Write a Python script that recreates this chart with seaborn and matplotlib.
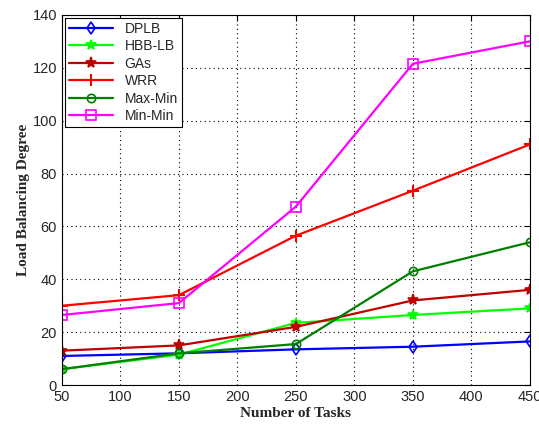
import matplotlib.pyplot as plt
import seaborn as sns
import numpy as np
import pandas as pd

tasks = [50, 150, 250, 350, 450]
dplb = [11, 12, 13.5, 14.5, 16.5]
hbb_lb = [6, 11.5, 23.5, 26.5, 29]
gas = [13, 15, 22, 32, 36]
wrr = [30, 34, 56.5, 73.5, 91]
max_min = [6, 12, 15.5, 43, 54]
min_min = [26.5, 31, 67.5, 121.5, 130]

series = {"DPLB": dplb, "HBB-LB": hbb_lb, "GAs": gas, "WRR": wrr,
          "Max-Min": max_min, "Min-Min": min_min}
styles = {
    "DPLB": dict(color="#0000ff", marker="d", mfc="none", ms=6),
    "HBB-LB": dict(color="#00ff00", marker="*", mfc="#00ff00", ms=7),
    "GAs": dict(color="#c00000", marker="*", mfc="#c00000", ms=8),
    "WRR": dict(color="#ff0000", marker="+", ms=8, mew=1.5),
    "Max-Min": dict(color="#008000", marker="o", mfc="none", ms=6),
    "Min-Min": dict(color="#ff00ff", marker="s", mfc="none", ms=7),
}

sns.set_style("white")
plt.rcParams["font.family"] = ["Liberation Sans", "DejaVu Sans"]

fig = plt.figure(figsize=(5.39, 4.25), dpi=100)
ax = fig.add_axes([0.115, 0.094, 0.868, 0.871])

for name, vals in series.items():
    df = pd.DataFrame({"tasks": tasks, "val": vals})
    st = styles[name]
    sns.lineplot(data=df, x="tasks", y="val", ax=ax, label=name,
                 color=st["color"], marker=st["marker"], markersize=st["ms"],
                 markerfacecolor=st.get("mfc", st["color"]),
                 markeredgecolor=st["color"], markeredgewidth=st.get("mew", 1.2),
                 linewidth=1.6)

ax.set_xlim(50, 450)
ax.set_ylim(0, 140)
ax.set_xticks(np.arange(50, 451, 50))
ax.set_yticks(np.arange(0, 141, 20))
ax.tick_params(direction="in", top=True, right=True, labelsize=10.5, length=4, color="black")
ax.grid(True, linestyle=(0, (1, 3)), color="black", linewidth=0.8)
for sp in ax.spines.values():
    sp.set_color("black")
    sp.set_linewidth(0.8)

ax.set_xlabel("Number of Tasks", family="Liberation Serif", fontweight="bold", fontsize=11, labelpad=2)
ax.set_ylabel("Load Balancing Degree", family="Liberation Serif", fontweight="bold", fontsize=11, labelpad=2)

leg = ax.legend(loc="upper left", fontsize=10, frameon=True, fancybox=False,
                edgecolor="black", framealpha=1, borderpad=0.3, labelspacing=0.25,
                handlelength=3.2, borderaxespad=0.2)
leg.get_frame().set_linewidth(0.8)

fig.savefig("out.png", dpi=100)
